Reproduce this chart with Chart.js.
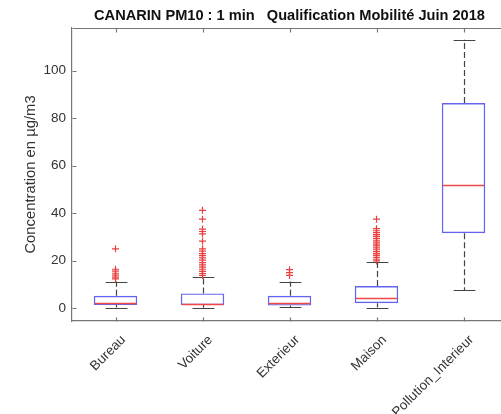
<!DOCTYPE html>
<html>
<head>
<meta charset="utf-8">
<script src="https://cdn.jsdelivr.net/npm/chart.js@4/dist/chart.umd.min.js"></script>
<style>
html,body{margin:0;padding:0;background:#fff;overflow:hidden;}
#wrap{position:relative;width:501px;height:414px;overflow:hidden;}
canvas{display:block;position:absolute;left:0;top:0;}
</style>
</head>
<body>
<div id="wrap"><canvas id="c" width="507" height="414"></canvas></div>
<script>
const titleText = 'CANARIN PM10 : 1 min   Qualification Mobilité Juin 2018';
const yTitle = 'Concentration en µg/m3';
const categories = ['Bureau', 'Voiture', 'Exterieur', 'Maison', 'Pollution_Interieur'];
const q1 = [1.3, 1.3, 1.1, 2.1, 31.6];
const median = [2.1, 1.9, 2.1, 4.2, 51.9];
const q3 = [5.2, 6.2, 5.2, 9.3, 86.4];
const whiskerLow = [0.25, 0.2, 0.3, 0.25, 7.5];
const whiskerHigh = [11.2, 13.2, 11.2, 19.4, 113.1];
const outliersBureau = [12.3, 13.1, 13.9, 14.7, 15.6, 16.4, 25.0];
const outliersVoiture = [13.8, 14.6, 15.5, 16.4, 17.3, 18.2, 19.2, 20.2, 21.2, 22.1, 23.0, 24.0, 25.0, 28.2, 31.3, 32.3, 33.3, 37.5, 41.2];
const outliersExterieur = [13.8, 15.0, 16.2];
const outliersMaison = [19.9, 20.6, 21.4, 22.2, 23.0, 23.8, 24.6, 25.4, 26.2, 27.0, 27.8, 28.6, 29.4, 30.2, 31.0, 31.8, 32.6, 33.5, 37.5];
const outliersPollution = [];
const yTicks = [0, 20, 40, 60, 80, 100];

const outlierLists = [outliersBureau, outliersVoiture, outliersExterieur, outliersMaison, outliersPollution];
const outlierPoints = categories.flatMap((c, i) => outlierLists[i].map(v => ({x: c, y: v})));

const FONT = "'Liberation Sans', Arial, Helvetica, sans-serif";

const boxParts = {
  id: 'boxParts',
  beforeDatasetsDraw(chart) {
    const {ctx, scales: {x, y}} = chart;
    const meta = chart.getDatasetMeta(0);
    ctx.save();
    categories.forEach((c, i) => {
      const bar = meta.data[i];
      const cx = Math.round(x.getPixelForValue(i)) + 0.5;
      const capHalf = bar.width / 4;
      ctx.strokeStyle = '#444';
      ctx.lineWidth = 1.2;
      ctx.setLineDash([6, 3]);
      ctx.beginPath();
      ctx.moveTo(cx, y.getPixelForValue(q3[i]));
      ctx.lineTo(cx, y.getPixelForValue(whiskerHigh[i]));
      ctx.moveTo(cx, y.getPixelForValue(q1[i]));
      ctx.lineTo(cx, y.getPixelForValue(whiskerLow[i]));
      ctx.stroke();
      ctx.setLineDash([]);
      ctx.beginPath();
      const yh = Math.round(y.getPixelForValue(whiskerHigh[i])) + 0.5;
      const yl = Math.round(y.getPixelForValue(whiskerLow[i])) + 0.5;
      ctx.moveTo(cx - capHalf, yh); ctx.lineTo(cx + capHalf, yh);
      ctx.moveTo(cx - capHalf, yl); ctx.lineTo(cx + capHalf, yl);
      ctx.stroke();
    });
    ctx.restore();
  },
  afterDatasetsDraw(chart) {
    const {ctx, scales: {x, y}} = chart;
    const meta = chart.getDatasetMeta(0);
    ctx.save();
    ctx.strokeStyle = '#f04848';
    ctx.lineWidth = 1.4;
    categories.forEach((c, i) => {
      const bar = meta.data[i];
      const cx = x.getPixelForValue(i);
      const ym = Math.round(y.getPixelForValue(median[i])) + 0.5;
      ctx.beginPath();
      ctx.moveTo(cx - bar.width / 2 + 1, ym);
      ctx.lineTo(cx + bar.width / 2 - 1, ym);
      ctx.stroke();
    });
    ctx.restore();
  },
  afterDraw(chart) {
    const {ctx, chartArea: a, scales: {x, y}} = chart;
    ctx.save();
    ctx.strokeStyle = '#777';
    ctx.lineWidth = 1.2;
    ctx.beginPath();
    const top = Math.round(a.top) + 0.5;
    const bot = Math.round(a.bottom) + 0.5;
    const left = Math.round(a.left) + 0.5;
    ctx.moveTo(left, top); ctx.lineTo(a.right, top);
    categories.forEach((c, i) => {
      const px = Math.round(x.getPixelForValue(i)) + 0.5;
      ctx.moveTo(px, bot); ctx.lineTo(px, bot - 4);
      ctx.moveTo(px, top); ctx.lineTo(px, top + 4);
    });
    yTicks.forEach(v => {
      const py = Math.round(y.getPixelForValue(v)) + 0.5;
      ctx.moveTo(left, py); ctx.lineTo(left + 4, py);
    });
    ctx.stroke();
    ctx.fillStyle = '#111';
    ctx.font = 'bold 14.6px ' + FONT;
    ctx.textAlign = 'center';
    ctx.textBaseline = 'middle';
    ctx.fillText(titleText, (a.left + a.right) / 2, 16);
    ctx.restore();
  }
};

new Chart(document.getElementById('c'), {
  type: 'bar',
  data: {
    labels: categories,
    datasets: [
      {
        type: 'bar',
        data: categories.map((c, i) => [q1[i], q3[i]]),
        backgroundColor: 'rgba(0,0,0,0)',
        borderColor: '#6464f0',
        borderWidth: 1.4,
        borderSkipped: false,
        categoryPercentage: 1,
        barPercentage: 0.5
      },
      {
        type: 'line',
        data: outlierPoints,
        showLine: false,
        pointStyle: 'cross',
        pointRadius: 3.5,
        pointBorderColor: '#e84040',
        pointBorderWidth: 1.2,
        pointBackgroundColor: '#e84040'
      }
    ]
  },
  options: {
    responsive: false,
    devicePixelRatio: 1,
    animation: false,
    layout: {autoPadding: false, padding: {left: 0, right: 0, top: 28, bottom: 0}},
    plugins: {
      legend: {display: false},
      tooltip: {enabled: false},
      title: {display: false}
    },
    scales: {
      x: {
        type: 'category',
        offset: true,
        grid: {display: false, drawTicks: false},
        border: {display: true, color: '#777', width: 1.2},
        ticks: {
          color: '#333',
          font: {family: FONT, size: 13.5},
          minRotation: 45,
          maxRotation: 45,
          padding: 11,
          labelOffset: 8
        },
        afterFit(s) { s.height = 93; s.paddingLeft = 0; s.paddingRight = 0; }
      },
      y: {
        type: 'linear',
        min: -5.4,
        max: 118,
        grid: {display: false, drawTicks: false},
        border: {display: true, color: '#777', width: 1.2},
        ticks: {
          stepSize: 20,
          includeBounds: false,
          color: '#333',
          font: {family: FONT, size: 13.5},
          padding: 6
        },
        title: {
          display: true,
          text: yTitle,
          color: '#333',
          font: {family: FONT, size: 14.8},
          padding: {top: 22, bottom: 0}
        },
        afterFit(s) { s.width = 72; s.paddingTop = 0; s.paddingBottom = 0; }
      }
    }
  },
  plugins: [boxParts]
});
</script>
</body>
</html>
